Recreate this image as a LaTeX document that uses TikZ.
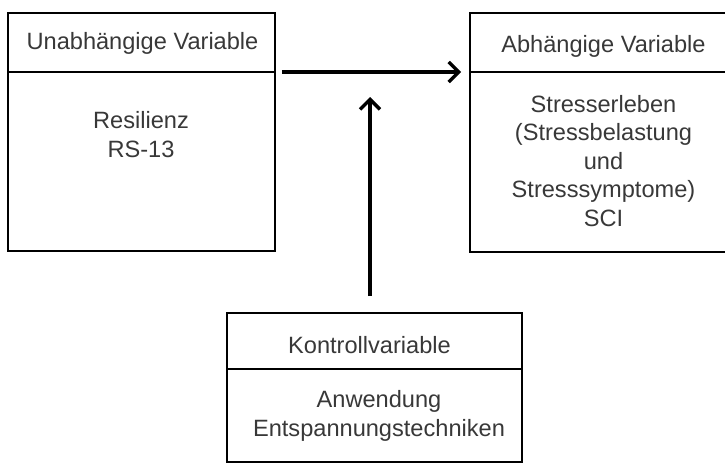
\documentclass[tikz,border=0pt]{standalone}
\usepackage{fontspec}
\setmainfont{Liberation Sans}
\usetikzlibrary{arrows.meta}
\definecolor{txt}{HTML}{383838}
\begin{document}
\begin{tikzpicture}[x=1pt,y=1pt,
  box/.style={draw=black, line width=1.6pt, rectangle, inner sep=0pt},
  lbl/.style={text=txt, font=\fontsize{23.6}{28.5}\selectfont, align=center, inner sep=0pt},
  conn/.style={line width=3.5pt, -{Straight Barb[length=10pt,width=20pt,line width=3.5pt]}}]
\useasboundingbox (0,0) rectangle (725,-463);
\clip (0,0) rectangle (725,-463);
% boxes
\node[box, minimum width=267pt, minimum height=238pt] (uv) at (141.5,-132) {};
\node[box, minimum width=300pt, minimum height=239pt] (av) at (620,-132.5) {};
\node[box, minimum width=295pt, minimum height=149pt] (kv) at (374.5,-387.5) {};
% dividers
\draw[line width=1.6pt] (uv.west |- 0,-72) coordinate (uvd) -- (uv.east |- 0,-72) coordinate (uve);
\draw[line width=1.6pt] (av.west |- 0,-72) coordinate (avd) -- (av.east |- 0,-72);
\draw[line width=1.6pt] (kv.west |- 0,-369) -- (kv.east |- 0,-369);
% texts
\node[lbl] (uvh) at (142.5,-43) {Unabhängige Variable};
\node[lbl] (uvb) at (141,-134.5) {Resilienz\\RS-13};
\node[lbl] (avh) at (603.5,-46) {Abhängige Variable};
\node[lbl] (avb) at (603.5,-161) {Stresserleben\\(Stressbelastung\\und\\Stresssymptome)\\SCI};
\node[lbl] (kvh) at (369.5,-345) {Kontrollvariable};
\node[lbl] (kvb) at (379,-416) {Anwendung\\Entspannungstechniken};
% connectors
\coordinate (tipv) at (370,-97);
\draw[conn, shorten <=6pt, shorten >=8pt] (uve) -- (avd);
\draw[conn, shorten <=16pt] (kv.north -| tipv) -- (tipv);
\end{tikzpicture}
\end{document}
